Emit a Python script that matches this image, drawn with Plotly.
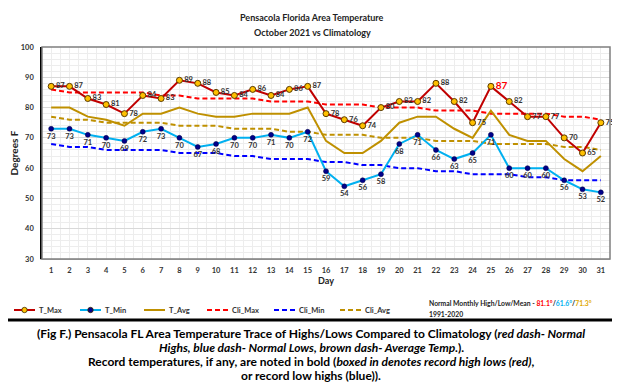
import plotly.graph_objects as go

# ---- data ----
days = list(range(1, 32))
t_max = [87, 87, 83, 81, 78, 84, 83, 89, 88, 85, 84, 86, 84, 86, 87, 78, 76, 74, 80, 82, 82, 88, 82, 75, 87, 82, 77, 77, 70, 65, 75]
t_min = [73, 73, 71, 70, 69, 72, 73, 70, 67, 68, 70, 70, 71, 70, 72, 59, 54, 56, 58, 68, 71, 66, 63, 65, 71, 60, 60, 60, 56, 53, 52]
t_avg = [80, 80, 77, 76, 74, 78, 78, 80, 78, 77, 77, 78, 78, 78, 80, 69, 65, 65, 69, 75, 77, 77, 73, 70, 79, 71, 69, 69, 63, 59, 64]
cli_max = [86, 85, 85, 85, 85, 85, 84, 84, 83, 83, 83, 83, 82, 82, 82, 81, 81, 81, 80, 80, 80, 79, 79, 79, 78, 78, 78, 78, 77, 77, 76]
cli_min = [68, 67, 67, 66, 66, 66, 66, 65, 65, 65, 64, 64, 63, 63, 63, 62, 62, 61, 61, 60, 60, 59, 59, 58, 58, 58, 57, 57, 56, 56, 56]
cli_avg = [77, 76, 76, 75, 75, 75, 75, 74, 74, 74, 73, 73, 73, 72, 72, 71, 71, 71, 70, 70, 70, 69, 69, 69, 68, 68, 68, 68, 67, 67, 66]
record_days = [25]
normal_high, normal_low, normal_mean = "81.1°", "61.6°", "71.3°"
y_ticks = [30, 40, 50, 60, 70, 80, 90, 100]

FONT = "Lato"
OFF = 8                      # page body margin shifts the figure by 8px
W, H = 620 - OFF, 386 - OFF
L, R, T, B = 42, 610, 47, 259  # plot area in screen pixels

C_MAX, C_MIN, C_AVG = "#C00000", "#00B0F0", "#BF9000"
C_CMAX, C_CMIN, C_CAVG = "#FF0000", "#0000FF", "#BF9000"
DASH = "5px,3px"


def px(x):
    return (x - L) / (R - L)


def py(y):
    return (B - y) / (B - T)


max_text_color = ["#FF0000" if d in record_days else "#333333" for d in days]
max_text_size = [10 if d in record_days else 7.5 for d in days]

fig = go.Figure()
fig.add_trace(go.Scatter(x=days, y=cli_max, name="Cli_Max", mode="lines",
                         line=dict(color=C_CMAX, width=2, dash=DASH)))
fig.add_trace(go.Scatter(x=days, y=cli_min, name="Cli_Min", mode="lines",
                         line=dict(color=C_CMIN, width=2, dash=DASH)))
fig.add_trace(go.Scatter(x=days, y=cli_avg, name="Cli_Avg", mode="lines",
                         line=dict(color=C_CAVG, width=2, dash=DASH)))
fig.add_trace(go.Scatter(x=days, y=t_avg, name="T_Avg", mode="lines",
                         line=dict(color=C_AVG, width=2)))
fig.add_trace(go.Scatter(
    x=days, y=t_min, name="T_Min", mode="lines+markers+text", cliponaxis=False,
    text=[str(v) for v in t_min], textposition="bottom center",
    textfont=dict(family=FONT, size=7.5, color="#333333", weight="bold"),
    line=dict(color=C_MIN, width=2),
    marker=dict(color="#00008B", size=5, line=dict(color="#000040", width=0.5))))
fig.add_trace(go.Scatter(
    x=days, y=t_max, name="T_Max", mode="lines+markers+text", cliponaxis=False,
    text=[str(v) for v in t_max], textposition="middle right",
    textfont=dict(family=FONT, size=max_text_size, color=max_text_color, weight="bold"),
    line=dict(color=C_MAX, width=2),
    marker=dict(color="#FFC000", size=6, line=dict(color="#5A3A00", width=1))))

fig.update_layout(
    width=W, height=H,
    margin=dict(l=L - OFF, r=620 - R, t=T - OFF, b=386 - B, autoexpand=False),
    paper_bgcolor="white", plot_bgcolor="white",
    font=dict(family=FONT, color="#333333"),
    showlegend=False,
    xaxis=dict(range=[0.5, 31.5], tickvals=days, ticktext=[str(d) for d in days],
               automargin=False,
               showgrid=True, gridcolor="#EDEDED", gridwidth=1,
               minor=dict(tick0=0.5, dtick=1, showgrid=True, gridcolor="#EDEDED"),
               showline=True, linecolor="#BFBFBF", linewidth=1,
               ticks="", zeroline=False, ticklabelstandoff=4,
               tickfont=dict(family=FONT, size=7.5, color="#333333", weight="bold"),
               title=dict(text="<b>Day</b>", font=dict(family=FONT, size=9, color="#222222"),
                          standoff=1)),
    yaxis=dict(range=[30, 100], tickvals=y_ticks,
               automargin=False,
               showgrid=True, gridcolor="#D9D9D9", gridwidth=1,
               minor=dict(dtick=2, showgrid=True, gridcolor="#EDEDED"),
               showline=True, linecolor="#000000", linewidth=1.5,
               ticks="", zeroline=False, ticklabelstandoff=5,
               tickfont=dict(family=FONT, size=7.5, color="#333333", weight="bold"),
               title=dict(text="<b>Degrees F</b>", font=dict(family=FONT, size=10, color="#222222"),
                          standoff=2)),
)

# plot-area border
fig.add_shape(type="rect", xref="paper", yref="paper", x0=0, x1=1, y0=0, y1=1,
              line=dict(color="#7F7F7F", width=1.5), layer="above")
# outer frame
fig.add_shape(type="rect", xref="paper", yref="paper",
              x0=px(1.5), x1=px(617.5), y0=py(320), y1=py(1.5),
              line=dict(color="#000000", width=3))

# title
fig.add_annotation(xref="paper", yref="paper", x=px(312), y=py(18), xanchor="center", yanchor="middle",
                   text="<b>Pensacola Florida Area Temperature</b>",
                   showarrow=False, font=dict(family=FONT, size=9, color="#222222"))
fig.add_annotation(xref="paper", yref="paper", x=px(312), y=py(33), xanchor="center", yanchor="middle",
                   text="<b>October 2021 vs Climatology</b>",
                   showarrow=False, font=dict(family=FONT, size=9, color="#222222"))

# legend (drawn below the plot)
LEG_Y = 310
legend_items = [
    ("T_Max", C_MAX, "solid", "#FFC000", 14),
    ("T_Min", C_MIN, "solid", "#00008B", 80),
    ("T_Avg", C_AVG, "solid", None, 144),
    ("Cli_Max", C_CMAX, DASH, None, 207),
    ("Cli_Min", C_CMIN, DASH, None, 274),
    ("Cli_Avg", C_CAVG, DASH, None, 340),
]
for name, col, dash, mcol, x0 in legend_items:
    fig.add_shape(type="line", xref="paper", yref="paper",
                  x0=px(x0), x1=px(x0 + 21), y0=py(LEG_Y), y1=py(LEG_Y),
                  line=dict(color=col, width=2, dash=dash))
    if mcol:
        fig.add_shape(type="circle", xref="paper", yref="paper",
                      xsizemode="pixel", ysizemode="pixel",
                      xanchor=px(x0 + 10.5), yanchor=py(LEG_Y),
                      x0=-2.7, x1=2.7, y0=-2.7, y1=2.7,
                      fillcolor=mcol, line=dict(color="#3A2A00", width=0.8))
    fig.add_annotation(xref="paper", yref="paper", x=px(x0 + 23), y=py(LEG_Y),
                       xanchor="left", yanchor="middle", showarrow=False, text=f"<b>{name}</b>",
                       font=dict(family=FONT, size=7.5, color="#333333"))

# normals note
fig.add_annotation(xref="paper", yref="paper", x=px(427), y=py(303), xanchor="left", yanchor="middle",
                   align="left", showarrow=False,
                   font=dict(family=FONT, size=6.8, color="#222222"),
                   text=("<b>Normal Monthly High/Low/Mean - "
                         f"<span style='color:#FF0000'>{normal_high}</span>/"
                         f"<span style='color:#00B0F0'>{normal_low}</span>/"
                         f"<span style='color:#E0A800'>{normal_mean}</span></b>"))
fig.add_annotation(xref="paper", yref="paper", x=px(427), y=py(314), xanchor="left", yanchor="middle",
                   align="left", showarrow=False,
                   font=dict(family=FONT, size=6.8, color="#222222"), text="<b>1991-2020</b>")

# caption, one annotation per line
caption = [
    "<b>(Fig F.) Pensacola FL Area Temperature Trace of Highs/Lows Compared to Climatology (<i>red dash- Normal</i></b>",
    "<b><i>Highs, blue dash- Normal Lows, brown dash- Average Temp.</i>).</b>",
    "<b>Record temperatures, if any, are noted in bold (<i>boxed in denotes record high lows (red)</i>,</b>",
    "<b>or record low highs (blue)).</b>",
]
cap_y = [333, 347.5, 361.5, 375.5]
for line, yy in zip(caption, cap_y):
    fig.add_annotation(xref="paper", yref="paper", x=px(311), y=py(yy), xanchor="center", yanchor="middle",
                       align="center", showarrow=False,
                       font=dict(family=FONT, size=12, color="#000000"), text=line)

fig.write_html("out.html")
